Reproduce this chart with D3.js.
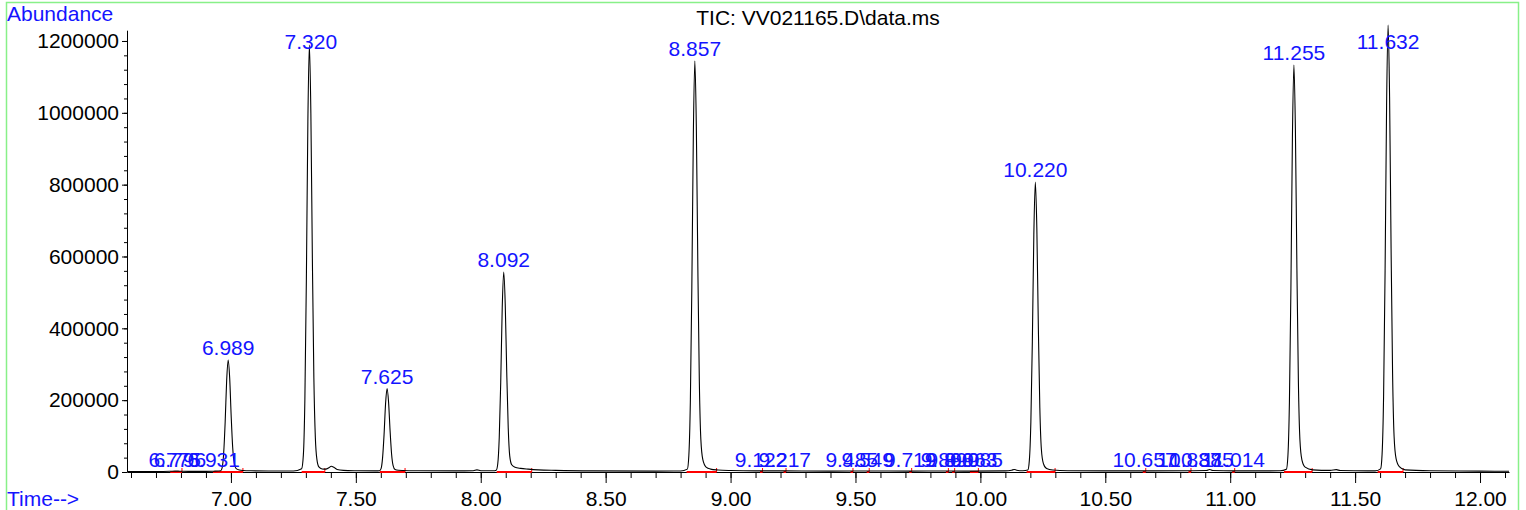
<!DOCTYPE html>
<html>
<head>
<meta charset="utf-8">
<script src="https://cdn.jsdelivr.net/npm/d3@7"></script>
<style>
  html, body { margin: 0; padding: 0; background: #fff; }
  svg { display: block; }
  text { font-family: "Liberation Sans", Arial, sans-serif; }
</style>
</head>
<body>
<svg id="chart" width="1526" height="510"></svg>
<script>
// ---------------- data ----------------
const chartTitle = "TIC: VV021165.D\\data.ms";
const yAxisTitle = "Abundance";
const xAxisTitle = "Time-->";

const xMajorTicks = [7.0, 7.5, 8.0, 8.5, 9.0, 9.5, 10.0, 10.5, 11.0, 11.5, 12.0];
const yMajorTicks = [0, 200000, 400000, 600000, 800000, 1000000, 1200000];

// chromatogram trace (retention time, min)
const times = [
  6.584, 6.70, 6.757, 6.775, 6.796, 6.83, 6.90, 6.931, 6.95,
  6.959, 6.965, 6.971, 6.977, 6.983, 6.989, 6.995, 7.001, 7.007, 7.013, 7.021, 7.034, 7.05, 7.08, 7.15, 7.25,
  7.283, 7.290, 7.296, 7.302, 7.308, 7.314, 7.320, 7.326, 7.332, 7.338, 7.344, 7.352, 7.365, 7.380, 7.392, 7.402, 7.412, 7.425, 7.45, 7.50, 7.58,
  7.595, 7.601, 7.607, 7.613, 7.619, 7.625, 7.631, 7.637, 7.643, 7.649, 7.657, 7.670, 7.69, 7.75, 7.90, 7.97, 7.985, 8.00, 8.05,
  8.062, 8.068, 8.074, 8.080, 8.086, 8.092, 8.098, 8.104, 8.110, 8.116, 8.124, 8.137, 8.16, 8.19, 8.23, 8.30, 8.45, 8.70, 8.80,
  8.827, 8.833, 8.839, 8.845, 8.851, 8.857, 8.863, 8.869, 8.875, 8.881, 8.889, 8.902, 8.92, 8.95, 9.00, 9.10, 9.122, 9.217, 9.40, 9.485, 9.549, 9.719, 9.866, 9.96, 10.10, 10.125, 10.135, 10.145, 10.17,
  10.190, 10.196, 10.202, 10.208, 10.214, 10.220, 10.226, 10.232, 10.238, 10.244, 10.252, 10.265, 10.29, 10.35, 10.50, 10.657, 10.84, 10.905, 10.918, 10.93, 11.014, 11.15, 11.20,
  11.225, 11.231, 11.237, 11.243, 11.249, 11.255, 11.261, 11.267, 11.273, 11.279, 11.287, 11.300, 11.33, 11.40, 11.425, 11.44, 11.55, 11.58,
  11.602, 11.608, 11.614, 11.620, 11.626, 11.632, 11.638, 11.644, 11.650, 11.656, 11.664, 11.677, 11.70, 11.80, 12.00, 12.116
];
const abundance = [
  1500, 1500, 2000, 2500, 2200, 1800, 1800, 2200, 2800,
  3500, 12500, 53000, 140000, 256000, 312000, 262000, 156000, 69000, 25000, 9400, 5500, 4200, 3400, 2800, 2600,
  9000, 47600, 202000, 535000, 975000, 1189000, 999000, 595000, 262000, 95000, 36000, 14300, 8500, 8000, 12000, 16000, 13000, 7000, 4500, 3500, 3000,
  3500, 9300, 39400, 104000, 190000, 232000, 195000, 116000, 51000, 18600, 7000, 4800, 4200, 3500, 3000, 3500, 6000, 3500, 3300,
  5000, 22300, 94700, 250000, 457000, 557000, 468000, 279000, 123000, 45000, 20000, 13000, 10000, 8000, 6000, 4500, 3000, 2500, 2800,
  8000, 45800, 194000, 515000, 938000, 1144000, 961000, 572000, 252000, 91500, 34300, 13700, 8000, 5500, 4000, 3000, 3200, 3000, 2500, 2800, 2800, 2500, 2800, 2500, 3000, 5000, 7000, 5000, 3500,
  5600, 32300, 137000, 363000, 662000, 807000, 678000, 404000, 178000, 64600, 24200, 9700, 5500, 3500, 3000, 3000, 3500, 4000, 7000, 4000, 3000, 3000, 3500,
  7900, 45300, 193000, 510000, 929000, 1133000, 952000, 567000, 249000, 90600, 34000, 13600, 6000, 4500, 6500, 4000, 3000, 3200,
  8700, 49800, 211000, 560000, 1020000, 1244000, 1045000, 622000, 274000, 99500, 37300, 14900, 6000, 3500, 2500, 2000
];

// peak annotations
const labelTexts = ["6.775", "6.796", "6.931", "6.989", "7.320", "7.625", "8.092", "8.857",
  "9.122", "9.217", "9.485", "9.549", "9.719", "9.866", "9.890", "9.963", "9.985",
  "10.220", "10.657", "10.837", "10.885", "11.014", "11.255", "11.632"];
const labelTimes = [6.775, 6.796, 6.931, 6.989, 7.320, 7.625, 8.092, 8.857,
  9.122, 9.217, 9.485, 9.549, 9.719, 9.866, 9.890, 9.963, 9.985,
  10.220, 10.657, 10.837, 10.885, 11.014, 11.255, 11.632];
const labelHeights = [0, 0, 0, 312000, 1189000, 232000, 557000, 1144000,
  0, 0, 0, 0, 0, 0, 0, 0, 0,
  807000, 0, 0, 0, 0, 1133000, 1244000];

// integration baselines (start, end)
const intStart = [6.757, 6.928, 7.283, 7.596, 8.064, 8.824, 9.118, 9.212, 9.480, 9.545, 9.715, 9.862, 9.887, 9.958, 10.185, 10.650, 10.833, 11.008, 11.215, 11.590];
const intEnd   = [6.804, 7.048, 7.376, 7.697, 8.204, 8.944, 9.128, 9.222, 9.490, 9.555, 9.725, 9.872, 9.897, 9.992, 10.299, 10.662, 10.843, 11.018, 11.328, 11.692];

// ---------------- drawing ----------------
const svg = d3.select("#chart");
const left = 127, right = 1509, bottom = 472;

const x = d3.scaleLinear().domain([6.584, 12.116]).range([left, right]);
const y = d3.scaleLinear().domain([0, 1230000]).range([bottom, 30.2]);

// green frame
svg.append("rect")
  .attr("x", 6.5).attr("y", 2.5).attr("width", 1512).attr("height", 520)
  .attr("fill", "none").attr("stroke", "#88f088").attr("stroke-width", 1.5);

const FS = 21;

// titles
svg.append("text").attr("x", 7).attr("y", 21).attr("fill", "#1414ff")
  .attr("font-size", FS).text(yAxisTitle);
svg.append("text").attr("x", 7).attr("y", 506).attr("fill", "#1414ff")
  .attr("font-size", FS).text(xAxisTitle);
svg.append("text").attr("x", (left + right) / 2).attr("y", 25).attr("fill", "#000")
  .attr("text-anchor", "middle").attr("font-size", FS).text(chartTitle);

// x axis minor ticks
const xMinor = d3.range(66, 122).map(v => v / 10);
svg.append("g").attr("transform", `translate(0,${bottom})`)
  .call(d3.axisBottom(x).tickValues(xMinor).tickSize(6).tickFormat(""))
  .call(g => g.select(".domain").remove())
  .call(g => g.selectAll("line").attr("stroke", "#000"));

// x axis major
const xAxis = svg.append("g").attr("transform", `translate(0,${bottom})`)
  .call(d3.axisBottom(x).tickValues(xMajorTicks).tickSize(11).tickSizeOuter(0)
    .tickPadding(8.5).tickFormat(d3.format(".2f")));
xAxis.selectAll("text").attr("font-size", FS).attr("font-family", "Liberation Sans, Arial, sans-serif").attr("fill", "#000");
xAxis.select(".domain").attr("stroke", "#000");

// y axis minor ticks
const yMinor = d3.range(0, 1200001, 40000);
svg.append("g").attr("transform", `translate(${left},0)`)
  .call(d3.axisLeft(y).tickValues(yMinor).tickSize(3).tickFormat(""))
  .call(g => g.select(".domain").remove());

// y axis major
const yAxis = svg.append("g").attr("transform", `translate(${left},0)`)
  .call(d3.axisLeft(y).tickValues(yMajorTicks).tickSize(5).tickSizeOuter(0)
    .tickPadding(3).tickFormat(d3.format("d")));
yAxis.selectAll("text").attr("font-size", FS).attr("font-family", "Liberation Sans, Arial, sans-serif").attr("fill", "#000");

// integration baselines (red)
const ig = svg.append("g");
intStart.forEach((s, i) => {
  ig.append("line").attr("x1", x(s)).attr("x2", x(intEnd[i]))
    .attr("y1", bottom).attr("y2", bottom).attr("stroke", "#ff0000").attr("stroke-width", 2);
  ig.append("line").attr("x1", x(intEnd[i])).attr("x2", x(intEnd[i]))
    .attr("y1", bottom).attr("y2", bottom - 4).attr("stroke", "#ff0000").attr("stroke-width", 1);
});

// trace
const pts = times.map((t, i) => [t, abundance[i]]);
svg.append("path").datum(pts)
  .attr("fill", "none").attr("stroke", "#000").attr("stroke-width", 1.1)
  .attr("d", d3.line().x(d => x(d[0])).y(d => y(d[1])).curve(d3.curveMonotoneX));

// peak labels
svg.append("g").selectAll("text").data(labelTexts).join("text")
  .attr("x", (d, i) => x(labelTimes[i]))
  .attr("y", (d, i) => Math.max(y(labelHeights[i]) - 5, 48.5))
  .attr("text-anchor", "middle").attr("font-size", FS).attr("fill", "#1414ff")
  .text(d => d);
</script>
</body>
</html>
